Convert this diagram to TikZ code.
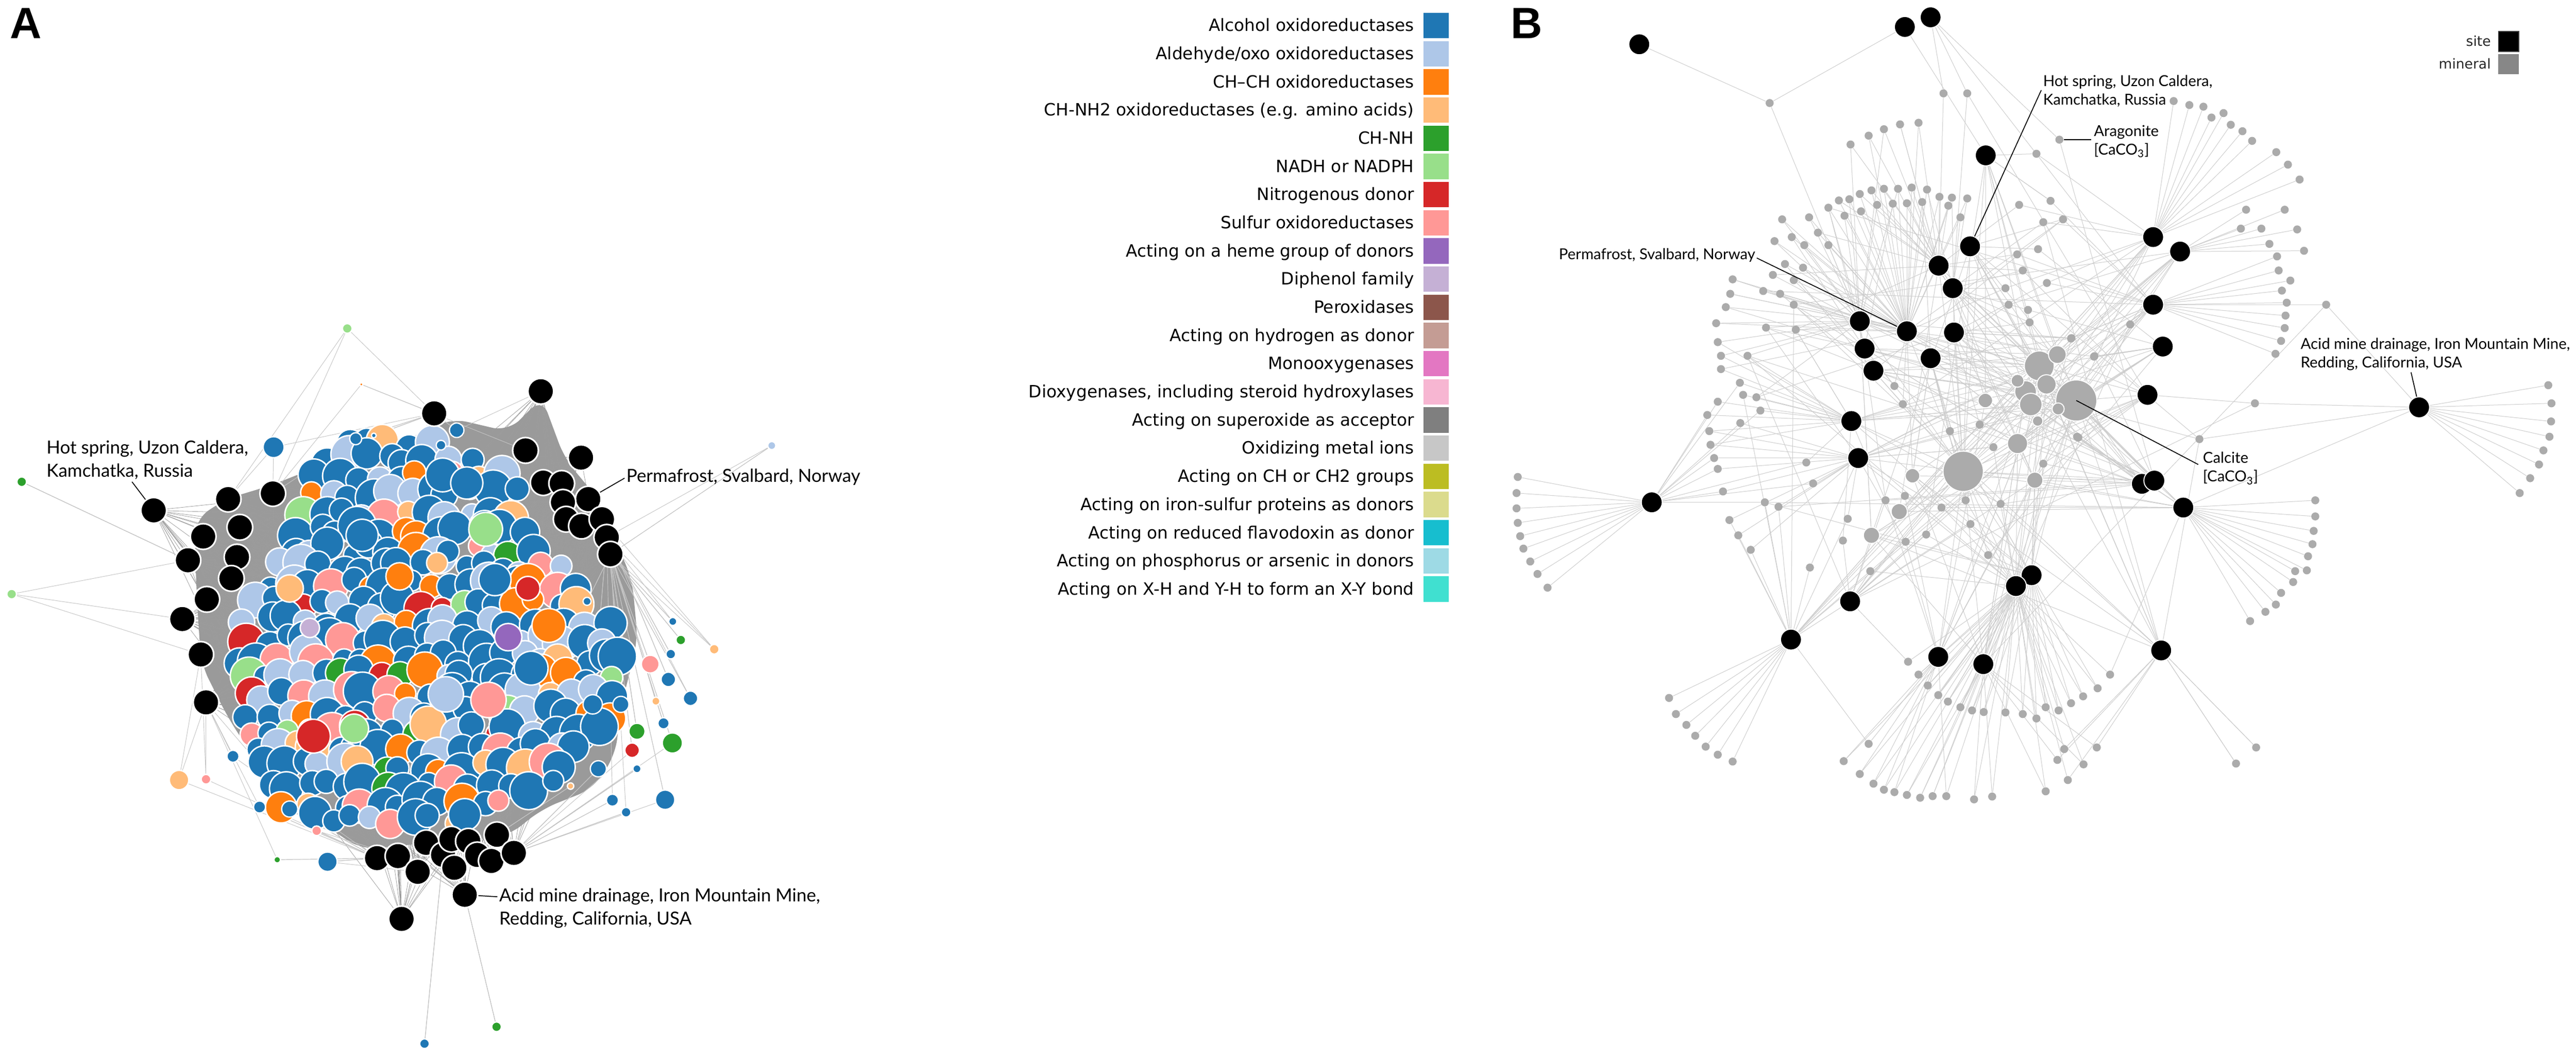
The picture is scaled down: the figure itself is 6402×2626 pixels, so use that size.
\documentclass[tikz,border=0pt]{standalone}
\usepackage{fontspec}
\setmainfont{DejaVu Sans}
\newfontfamily\latofont{Lato}
\newfontfamily\panelfont{Liberation Sans}
\pgfdeclarelayer{polylayer}
\pgfdeclarelayer{edgelayer}
\pgfsetlayers{polylayer,edgelayer,main}
\definecolor{cblue}{HTML}{1F77B4}
\definecolor{clblue}{HTML}{AEC7E8}
\definecolor{corange}{HTML}{FF7F0E}
\definecolor{clorange}{HTML}{FFBB78}
\definecolor{cgreen}{HTML}{2CA02C}
\definecolor{clgreen}{HTML}{98DF8A}
\definecolor{cred}{HTML}{D62728}
\definecolor{cpink}{HTML}{FF9896}
\definecolor{cpurple}{HTML}{9467BD}
\definecolor{clpurple}{HTML}{C5B0D5}
\definecolor{cbrown}{HTML}{8C564B}
\definecolor{clbrown}{HTML}{C49C94}
\definecolor{cmagenta}{HTML}{E377C2}
\definecolor{clmagenta}{HTML}{F7B6D2}
\definecolor{cgray}{HTML}{7F7F7F}
\definecolor{clgray}{HTML}{C7C7C7}
\definecolor{colive}{HTML}{BCBD22}
\definecolor{clolive}{HTML}{DBDB8D}
\definecolor{ccyan}{HTML}{17BECF}
\definecolor{clcyan}{HTML}{9EDAE5}
\definecolor{cturq}{HTML}{40E0D0}
\definecolor{massA}{HTML}{9A9A9A}
\definecolor{edgeA}{HTML}{9C9C9C}
\definecolor{edgeAl}{HTML}{C4C4C4}
\definecolor{edgeB}{HTML}{CDCDCD}
\definecolor{mgray}{HTML}{ABABAB}
\definecolor{legmin}{HTML}{878787}
\pgfmathdeclarerandomlist{clcols}{{cblue}{cblue}{cblue}{cblue}{cblue}{cblue}{cblue}{cblue}{cblue}{cblue}{cblue}{cblue}{cblue}{cblue}{cblue}{cblue}{cblue}{cblue}{cblue}{cblue}{cblue}{cblue}{cblue}{cblue}{cblue}{cblue}{cblue}{cblue}{cblue}{cblue}{clblue}{clblue}{clblue}{clblue}{clblue}{clblue}{clblue}{clblue}{clblue}{clblue}{corange}{corange}{corange}{corange}{corange}{corange}{clorange}{clorange}{cgreen}{clgreen}{cred}{cred}{cpink}{cpink}{cpink}}
\newcount\clustcount
\tikzset{
  clA/.style={circle, draw=white, line width=0.9pt, inner sep=0pt},
  siteA/.style={circle, fill=black, draw=white, line width=1pt, inner sep=0pt, minimum size=16pt},
  outA/.style={circle, draw=white, line width=0.8pt, inner sep=0pt},
  aedge/.style={draw=edgeA, line width=0.25pt},
  aedgel/.style={draw=edgeAl, line width=0.3pt},
  siteB/.style={circle, fill=black, draw=white, line width=0.6pt, inner sep=0pt, minimum size=13pt},
  minB/.style={circle, fill=mgray, draw=white, line width=0.6pt, inner sep=0pt},
  mdot/.style={circle, fill=mgray, inner sep=0pt, minimum size=5pt},
  bedge/.style={draw=edgeB, line width=0.32pt},
  leader/.style={draw=black, line width=0.55pt},
  labA/.style={font=\latofont\fontsize{11.2}{13.5}\selectfont, inner sep=0pt},
  labB/.style={font=\latofont\fontsize{9.4}{11.5}\selectfont, inner sep=0pt},
  legtxt/.style={font=\fontsize{10.5}{12}\selectfont, inner sep=0pt, anchor=base east},
  legsw/.style={minimum width=15.5pt, minimum height=15.75pt, inner sep=0pt, draw=none},
  panel/.style={font=\panelfont\bfseries\fontsize{27.2}{30}\selectfont, inner sep=0pt, anchor=base west}
}
% ---- data lists ----
\def\outlist{o1/863/816/clgreen/6pt/sA3/sA13/sA2, o2/898/955/corange/2pt/sA3/sA13/sA15,
 o3/54/1197/cgreen/6pt/sA6/sA6/sA6, o4/29/1476/clgreen/6pt/sA6/sA10/sA11,
 o5/1918/1107/clblue/5pt/sA25/sA24/sA25, o6/680/1111/cblue/13pt/sA2/sA3/sA13,
 o7/1775/1613/clorange/6pt/sA25/sA24/sA23, o8/445/1938/clorange/12pt/sA11/sA12/sA26,
 o9/512/1936/cpink/6pt/sA12/sA26/sA11, o10/787/2064/cpink/6pt/sA26/sA12/sA27,
 o11/689/2136/cgreen/4pt/sA26/sA12/sA26, o12/814/2141/cblue/12pt/sA26/sA27/sA28,
 o13/1055/2593/cblue/6pt/sA30/sA30/sA30, o14/1234/2551/cgreen/6pt/sA38/sA38/sA38,
 o15/1653/1987/cblue/12pt/sA25/sA37/sA24, o16/1556/2018/cblue/6pt/sA37/sA25/sA37,
 o17/1522/1988/cblue/7.5pt/sA37/sA24/sA37, o18/1671/1846/cgreen/12.5pt/sA25/sA37/sA25,
 o19/1583/1817/cgreen/10pt/sA25/sA24/sA25, o20/1571/1864/cred/9pt/sA24/sA37/sA24,
 o21/1716/1735/cblue/9pt/sA25/sA24/sA25, o22/1692/1590/cgreen/6pt/sA25/sA25/sA25,
 o23/1672/1544/cblue/5pt/sA25/sA24/sA25, o24/1667/1625/cblue/6pt/sA24/sA24/sA24,
 o25/1616/1650/cpink/11pt/sA25/sA25/sA25, o26/1661/1688/cblue/9pt/sA23/sA23/sA23,
 o27/1649/1797/cblue/7pt/sA25/sA25/sA25, o28/1583/1910/cblue/5pt/sA37/sA37/sA37,
 o29/1418/1953/clorange/4pt/sA35/sA35/sA35, o30/1630/1742/clorange/5pt/sA24/sA24/sA24,
 o31/1459/1494/cblue/5pt/sA25/sA25/sA25, o32/1135/1069/cblue/9pt/sA13/sA14/sA13,
 o33/1096/1106/cblue/6pt/sA13/sA13/sA13, o34/884/1090/cblue/7.5pt/sA13/sA3/sA13,
 o35/929/1082/cblue/3pt/sA13/sA13/sA13, o36/579/1879/cblue/7.5pt/sA12/sA26/sA12,
 o37/645/2005/cblue/7.5pt/sA26/sA12/sA26, o38/720/2010/cblue/10pt/sA26/sA26/sA26,
 o39/1543/1750/cblue/10pt/sA25/sA25/sA25, o40/1487/1910/cblue/10pt/sA37/sA37/sA37,
 o41/1473/1750/cblue/12pt/sA24/sA24/sA24}
\def\fanone{3772/1185/b24, 3769/1225/b24, 3769/1263/b24, 3772/1299/b24, 3778/1332/b24, 3786/1363/b24, 3803/1395/b24, 3821/1426/b24, 3846/1460/b24,
 4148/1734/b29, 4165/1774/b29, 4191/1801/b29, 4213/1828/b29, 4239/1855/b29, 4269/1875/b29, 4306/1892/b29,
 5754/1243/b23, 5754/1283/b23, 5750/1319/b23, 5747/1352/b23, 5736/1382/b23, 5733/1417/b23, 5704/1419/b23, 5699/1446/b23, 5669/1473/b23, 5656/1502/b23, 5630/1520/b23, 5592/1543/b23,
 6333/957/b25, 6341/1002/b25, 6340/1047/b25, 6336/1085/b25, 6321/1119/b25, 6310/1154/b25, 6288/1188/b25, 6262/1225/b25,
 5402/251/b14, 5441/261/b14, 5476/265/b14, 5496/292/b14, 5526/281/b14, 5544/310/b14, 5573/326/b14, 5597/350/b14, 5657/378/b14, 5686/409/b14, 5715/446/b14,
 5582/521/b15, 5678/521/b15, 5569/568/b15, 5620/568/b15, 5709/570/b15, 5640/606/b15, 5726/623/b15,
 5659/637/b16, 5663/672/b16, 5692/697/b16, 5671/722/b16, 5683/752/b16, 5680/784/b16, 5678/815/b16, 5669/847/b16, 5655/879/b16}
\def\fantwo{4708/959/b9/b11, 4729/1004/b13/b19, 4846/1071/b12/b26, 4920/1055/b10/b21, 4954/1111/b20/b27, 5078/1152/b21/b26, 5165/1087/b21/b23, 4734/1232/b20/b27, 4686/1243/b19/b28, 4825/1261/b20/b26, 4885/1243/b12/b27, 4972/1252/b21/b27, 4897/1302/b19/b26, 4787/1328/b28/b27, 4736/1346/b20/b30, 4580/1343/b28/b19, 4592/1289/b20/b29, 4941/1379/b26/b12, 4648/1419/b28/b27, 4498/1410/b29/b20, 5018/509/b6/b14, 5096/499/b4/b16, 5078/552/b7/b14, 5127/545/b5/b16, 5065/619/b5/b17, 5013/632/b6/b16, 5027/672/b7/b18, 5087/703/b10/b16, 4984/716/b9/b14, 4992/757/b12/b15, 5040/770/b7/b17, 5044/801/b10/b21, 5147/841/b16/b12, 5204/886/b17/b9, 5294/806/b16/b27, 5061/382/b4/b14, 4506/1201/b20/b24, 4489/1149/b19/b24, 4386/1248/b24/b29, 4420/1259/b20/b29, 4332/981/b19/b29, 4365/987/b19/b8, 4375/1020/b19/b24, 4325/1051/b20/b24, 4343/884/b8/b19, 4389/814/b8/b11, 4382/723/b8/b9, 4424/730/b9/b13, 4406/683/b8/b6, 4458/757/b9/b11, 4463/819/b9/b19, 5466/1091/b25/b32, 5604/1002/b25/b18, 5781/757/b25/b16, 4830/232/b6/b3, 4889/232/b7/b3, 5162/1085/b23/b18, 5205/885/b17/b22, 5148/840/b16/b10,
 4544/516/b9/b8, 4570/498/b9/b6, 4596/495/b9/b8, 4622/482/b9/b6, 4651/473/b9/b7, 4682/469/b9/b6, 4717/469/b9/b8, 4751/466/b9/b6, 4789/471/b9/b7, 4820/489/b9/b6, 4851/491/b9/b10, 4889/493/b9/b7, 4584/536/b8/b9, 4625/525/b6/b9, 4665/509/b8/b6, 4704/506/b9/b11, 4739/505/b6/b9, 4777/502/b9/b12, 4842/511/b6/b9, 4872/540/b9/b7, 4429/545/b9/b8, 4453/589/b9/b11, 4484/609/b9/b8, 4410/599/b8/b9, 4436/656/b9/b13, 4481/665/b9/b8, 4458/696/b9/b11, 4496/540/b9/b8, 4518/578/b9/b6, 4544/609/b9/b8, 4599/359/b6/b8, 4644/337/b6/b9, 4682/321/b6/b8, 4722/309/b6/b6, 4768/305/b6/b9,
 4306/694/b8/b9, 4300/730/b8/b9, 4289/763/b8/b11, 4265/803/b8/b9, 4269/850/b8/b19, 4277/884/b19/b8, 4277/917/b19/b9, 4324/951/b19/b24, 4269/998/b19/b24, 4243/1031/b19/b24, 4248/1071/b19/b20, 4251/1105/b20/b19, 4260/1138/b20/b24, 4269/1165/b20/b24, 4282/1221/b20/b24, 4298/1292/b20/b29, 4320/1330/b20/b29, 4351/1366/b20/b29,
 4742/1644/b27/b28, 4768/1676/b27/b26, 4791/1703/b27/b26, 4817/1727/b27/b26, 4841/1743/b27/b26, 4872/1757/b27/b26, 4901/1765/b27/b26, 4930/1769/b27/b26, 4984/1770/b27/b26, 5027/1774/b27/b26, 5061/1785/b27/b26, 5084/1757/b27/b26, 5116/1765/b27/b26, 5147/1747/b27/b26, 5177/1730/b27/b26, 5213/1710/b27/b26, 5244/1676/b27/b23,
 4582/1891/b30/b27, 4622/1923/b30/b27, 4644/1848/b30/b29, 4656/1947/b30/b27, 4682/1962/b30/b27, 4708/1968/b27/b30, 4739/1975/b27/b31, 4772/1982/b27/b31, 4803/1978/b27/b31, 4837/1978/b27/b30, 4906/1986/b27/b31, 4951/1979/b27/b31, 5084/1966/b27/b31, 5113/1888/b31/b32, 5139/1938/b27/b32, 5178/1899/b31/b27, 5130/1861/b32/b27, 5211/1857/b31/b32, 5557/1897/b32/b32, 5607/1857/b32/b32}
\begin{document}
\begin{tikzpicture}[x=0.25pt,y=-0.25pt]
\pgfmathsetseed{11}
\useasboundingbox (0,0) rectangle (6402,2626);
\begin{pgfonlayer}{polylayer}
\fill[white] (0,0) rectangle (6402,2626);
\fill[massA, rounded corners=10pt] (485,1290) -- (561,1240) -- (673,1206) -- (842,1139) -- (982,1106) -- (1122,1039) -- (1263,1072) -- (1347,988) -- (1403,1139) -- (1487,1240) -- (1529,1340) -- (1571,1441) -- (1585,1591) -- (1543,1759) -- (1529,1876) -- (1473,1960) -- (1347,2010) -- (1263,2077) -- (1066,2094) -- (898,2111) -- (800,2045) -- (700,2000) -- (645,1905) -- (565,1780) -- (500,1650) -- (490,1500) -- (485,1380) -- cycle;
\end{pgfonlayer}

% ---------------- Panel A ----------------
\node[panel] (lettA) at (24,96) {A};

\global\clustcount=0
\foreach \yy/\lx/\rx in {1100/860/1060, 1140/810/1170, 1185/785/1235, 1230/770/1270, 1275/760/1300, 1320/745/1330, 1365/725/1360, 1410/700/1400, 1455/670/1440, 1500/640/1480, 1545/615/1520, 1590/605/1545, 1635/600/1555, 1680/605/1545, 1725/610/1535, 1770/615/1515, 1815/625/1490, 1860/640/1460, 1905/650/1420, 1950/665/1370, 1995/700/1290, 2035/770/1180}{
  \pgfmathtruncatemacro\nkk{(\rx-\lx)/50}
  \foreach \kk in {0,...,\nkk}{
    \pgfmathsetmacro\xx{\lx+\kk*50+rand*16}
    \pgfmathsetmacro\yj{\yy+rand*16}
    \pgfmathsetlengthmacro\dm{(52+rnd*44)*0.25pt}
    \pgfmathrandomitem{\cl}{clcols}
    \global\advance\clustcount by 1
    \edef\idn{\the\clustcount}
    \node[clA, fill=\cl, minimum size=\dm] (c\idn) at (\xx,\yj) {};
  }
}
\edef\Ntot{\the\clustcount}

\foreach \nm/\xa/\ya/\cl/\dm in {x1/1207/1315/clgreen/21pt, x2/1263/1583/cpurple/17pt, x3/1364/1554/corange/21pt, x4/1214/1739/cpink/22pt, x5/779/1829/cred/21pt, x6/1108/1725/clblue/22pt, x7/1312/1462/cred/15pt, x8/993/1432/corange/17pt, x9/720/1462/clorange/17pt, x10/1100/1180/cblue/21pt, x11/1160/1200/cblue/20pt, x12/900/1330/cblue/20pt, x13/1230/1440/cblue/20pt, x14/770/1560/clpurple/12pt, x15/880/1810/clgreen/18pt, x16/1320/1660/cblue/21pt}{
  \node[clA, fill=\cl, minimum size=\dm] (c\nm) at (\xa,\ya) {};
}

\foreach \nm/\xa/\ya in {1/382/1268, 2/567/1240, 3/678/1226, 4/505/1333, 5/596/1310, 6/467/1392, 7/589/1384, 8/575/1437, 9/514/1489, 10/453/1538, 11/499/1626, 12/512/1745, 13/1079/1027, 14/1344/972, 15/1306/1119, 16/1444/1137, 17/1350/1199, 18/1396/1201, 19/1462/1240, 20/1399/1248, 21/1407/1290, 22/1445/1307, 23/1496/1290, 24/1508/1335, 25/1517/1377, 26/937/2132, 27/989/2127, 28/1038/2166, 29/1059/2094, 30/1101/2124, 31/1129/2156, 32/1122/2085, 33/1164/2090, 34/1186/2124, 35/1235/2074, 36/1221/2139, 37/1277/2119, 38/1155/2223, 39/998/2283}{
  \node[siteA] (sA\nm) at (\xa,\ya) {};
}

\foreach \nm/\xa/\ya/\cl/\dm/\ha/\hb/\hc in \outlist {
  \node[outA, fill=\cl, minimum size=\dm] (\nm) at (\xa,\ya) {};
}

\begin{pgfonlayer}{edgelayer}
\foreach \nm in {1,...,39}{
  \foreach \jj in {1,...,18}{
    \pgfmathrandominteger{\tg}{1}{\Ntot}
    \draw[aedge] (sA\nm) -- (c\tg);
  }
}
\foreach \nm/\xa/\ya/\cl/\dm/\ha/\hb/\hc in \outlist {
    \draw[aedgel] (\nm) -- (\ha);
    \draw[aedgel] (\nm) -- (\hb);
    \draw[aedgel] (\nm) -- (\hc);
}
\end{pgfonlayer}

\node[labA, anchor=base west] (hsA1) at (115,1128) {Hot spring, Uzon Caldera,};
\node[labA, anchor=base west] (hsA2) at (115,1185) {Kamchatka, Russia};
\coordinate (hsAL) at (328,1197);
\draw[leader] (hsAL) -- (sA1);
\node[labA, anchor=base west] (pfA) at (1556,1198) {Permafrost, Svalbard, Norway};
\coordinate (pfAL) at (1552,1188);
\draw[leader] (sA19) -- (pfAL);
\node[labA, anchor=base west] (amA1) at (1240,2240) {Acid mine drainage, Iron Mountain Mine,};
\node[labA, anchor=base west] (amA2) at (1240,2297) {Redding, California, USA};
\coordinate (amAL) at (1236,2228);
\draw[leader] (sA38) -- (amAL);

% ---------------- Legend ----------------
\node[legsw, fill=cblue] (sw1) at (3569,63.5) {};
\node[legtxt] (lt1) at (3515,78) {Alcohol oxidoreductases};
\node[legsw, fill=clblue] (sw2) at (3569,133.5) {};
\node[legtxt] (lt2) at (3515,148) {Aldehyde/oxo oxidoreductases};
\node[legsw, fill=corange] (sw3) at (3569,203.5) {};
\node[legtxt] (lt3) at (3515,218) {CH–CH oxidoreductases};
\node[legsw, fill=clorange] (sw4) at (3569,273.5) {};
\node[legtxt] (lt4) at (3515,288) {CH-NH2 oxidoreductases (e.g. amino acids)};
\node[legsw, fill=cgreen] (sw5) at (3569,343.5) {};
\node[legtxt] (lt5) at (3515,358) {CH-NH};
\node[legsw, fill=clgreen] (sw6) at (3569,413.5) {};
\node[legtxt] (lt6) at (3515,428) {NADH or NADPH};
\node[legsw, fill=cred] (sw7) at (3569,483.5) {};
\node[legtxt] (lt7) at (3515,498) {Nitrogenous donor};
\node[legsw, fill=cpink] (sw8) at (3569,553.5) {};
\node[legtxt] (lt8) at (3515,568) {Sulfur oxidoreductases};
\node[legsw, fill=cpurple] (sw9) at (3569,623.5) {};
\node[legtxt] (lt9) at (3515,638) {Acting on a heme group of donors};
\node[legsw, fill=clpurple] (sw10) at (3569,693.5) {};
\node[legtxt] (lt10) at (3515,708) {Diphenol family};
\node[legsw, fill=cbrown] (sw11) at (3569,763.5) {};
\node[legtxt] (lt11) at (3515,778) {Peroxidases};
\node[legsw, fill=clbrown] (sw12) at (3569,833.5) {};
\node[legtxt] (lt12) at (3515,848) {Acting on hydrogen as donor};
\node[legsw, fill=cmagenta] (sw13) at (3569,903.5) {};
\node[legtxt] (lt13) at (3515,918) {Monooxygenases};
\node[legsw, fill=clmagenta] (sw14) at (3569,973.5) {};
\node[legtxt] (lt14) at (3515,988) {Dioxygenases, including steroid hydroxylases};
\node[legsw, fill=cgray] (sw15) at (3569,1043.5) {};
\node[legtxt] (lt15) at (3515,1058) {Acting on superoxide as acceptor};
\node[legsw, fill=clgray] (sw16) at (3569,1113.5) {};
\node[legtxt] (lt16) at (3515,1128) {Oxidizing metal ions};
\node[legsw, fill=colive] (sw17) at (3569,1183.5) {};
\node[legtxt] (lt17) at (3515,1198) {Acting on CH or CH2 groups};
\node[legsw, fill=clolive] (sw18) at (3569,1253.5) {};
\node[legtxt] (lt18) at (3515,1268) {Acting on iron-sulfur proteins as donors};
\node[legsw, fill=ccyan] (sw19) at (3569,1323.5) {};
\node[legtxt] (lt19) at (3515,1338) {Acting on reduced flavodoxin as donor};
\node[legsw, fill=clcyan] (sw20) at (3569,1393.5) {};
\node[legtxt] (lt20) at (3515,1408) {Acting on phosphorus or arsenic in donors};
\node[legsw, fill=cturq] (sw21) at (3569,1463.5) {};
\node[legtxt] (lt21) at (3515,1478) {Acting on X-H and Y-H to form an X-Y bond};

% ---------------- Panel B ----------------
\node[panel] (lettB) at (3754,95) {B};
\node[fill=black, draw=black!75, line width=0.5pt, minimum width=12.75pt, minimum height=12.5pt, inner sep=0pt] (sitesw) at (6234.5,103) {};
\node[fill=legmin, minimum width=12.75pt, minimum height=12.5pt, inner sep=0pt] (minsw) at (6234.5,159) {};
\node[font=\fontsize{8.5}{10}\selectfont, anchor=base east, inner sep=0pt, text=black!85] (sitetx) at (6191,115) {site};
\node[font=\fontsize{8.5}{10}\selectfont, anchor=base east, inner sep=0pt, text=black!85] (mintx) at (6191,171) {mineral};

\foreach \nm/\xa/\ya in {b1/4074/110, b2/4734/67, b3/4798/43, b4/4935/386, b5/4896/612, b6/4818/660, b7/4853/716, b8/4622/798, b9/4739/823, b10/4856/826, b11/4634/866, b12/4798/890, b13/4656/921, b14/5351/589, b15/5418/625, b16/5351/757, b17/5375/861, b18/5337/981, b19/4601/1046, b20/4618/1138, b21/5323/1202, b22/5354/1194, b23/5426/1261, b24/4105/1248, b25/6012/1012, b26/5049/1429, b27/5010/1456, b28/4598/1494, b29/4451/1589, b30/4817/1632, b31/4929/1650, b32/5371/1616}{
  \node[siteB] (\nm) at (\xa,\ya) {};
}

\foreach \nm/\xa/\ya/\dm in {cal/5160/995/25.5pt, mb2/4879/1171/25pt, mb3/5068/909/18.5pt, mb4/5113/881/11pt, mb5/5086/955/12pt, mb6/5034/973/13.5pt, mb7/5047/1005/14pt, mb8/5014/946/8pt, mb9/5115/1016/7.5pt, mb10/5064/1046/6.5pt, mb11/5014/1102/12.5pt, mb12/5057/1193/10pt, mb13/4934/995/9pt, mb14/4753/1182/9pt, mb15/4720/1271/10pt, mb16/4651/1330/10pt}{
  \node[minB, minimum size=\dm] (\nm) at (\xa,\ya) {};
}

\foreach \xa/\ya/\ha [count=\ci] in \fanone {
  \node[mdot] (fo\ci) at (\xa,\ya) {};
}
\foreach \xa/\ya/\ha/\hb [count=\ci] in \fantwo {
  \node[mdot] (ft\ci) at (\xa,\ya) {};
}
\node[mdot] (hubdot) at (4398,256) {};
\node[mdot] (arag) at (5118,347) {};

\begin{pgfonlayer}{edgelayer}
\foreach \xa/\ya/\ha [count=\ci] in \fanone {
  \draw[bedge] (\ha) -- (fo\ci);
}
\foreach \xa/\ya/\ha/\hb [count=\ci] in \fantwo {
  \draw[bedge] (\ha) -- (ft\ci);
  \draw[bedge] (\hb) -- (ft\ci);
}
\draw[bedge] (b1) -- (hubdot);
\draw[bedge] (b2) -- (hubdot);
\draw[bedge] (hubdot) -- (b8);
\draw[bedge] (b3) -- (arag);
\draw[bedge] (arag) -- (b22);
\draw[bedge] (b2) -- (b4);
\draw[bedge] (b3) -- (b16);
\draw[bedge] (b25) -- (b23);
\foreach \sn in {b4,b5,b6,b7,b8,b9,b10,b11,b12,b13,b14,b15,b16,b17,b18,b19,b20,b21,b22,b23,b26,b27,b28,b29,b30,b31,b32}{
  \foreach \mn in {cal,mb2,mb3}{\draw[bedge] (\sn) -- (\mn);}
  \foreach \jj in {1,2,3,4}{
    \pgfmathrandominteger{\rg}{4}{16}
    \draw[bedge] (\sn) -- (mb\rg);
  }
  \foreach \jj in {1,2}{
    \pgfmathrandominteger{\rg}{1}{60}
    \draw[bedge] (\sn) -- (ft\rg);
  }
}
\end{pgfonlayer}

\node[labB, anchor=base west] (hsB1) at (5077,215) {Hot spring, Uzon Caldera,};
\node[labB, anchor=base west] (hsB2) at (5077,261) {Kamchatka, Russia};
\coordinate (hsBL) at (5073,224);
\draw[leader] (hsBL) -- (b5);
\coordinate (aragL) at (5197,347);
\draw[leader] (arag) -- (aragL);
\node[labB, anchor=base west] (arB1) at (5203,339) {Aragonite};
\node[labB, anchor=base west] (arB2) at (5203,385) {[CaCO\textsubscript{3}]};
\coordinate (calL) at (5463,1154);
\draw[leader] (cal.center) -- (calL);
\node[labB, anchor=base west] (caB1) at (5474,1150) {Calcite};
\node[labB, anchor=base west] (caB2) at (5474,1197) {[CaCO\textsubscript{3}]};
\node[labB, anchor=base west] (amB1) at (5717,868) {Acid mine drainage, Iron Mountain Mine,};
\node[labB, anchor=base west] (amB2) at (5717,914) {Redding, California, USA};
\coordinate (amBL) at (5992,925);
\draw[leader] (amBL) -- (b25);
\node[labB, anchor=base east] (pfB) at (4363,645) {Permafrost, Svalbard, Norway};
\coordinate (pfBL) at (4366,641);
\draw[leader] (pfBL) -- (b9);
\end{tikzpicture}
\end{document}
